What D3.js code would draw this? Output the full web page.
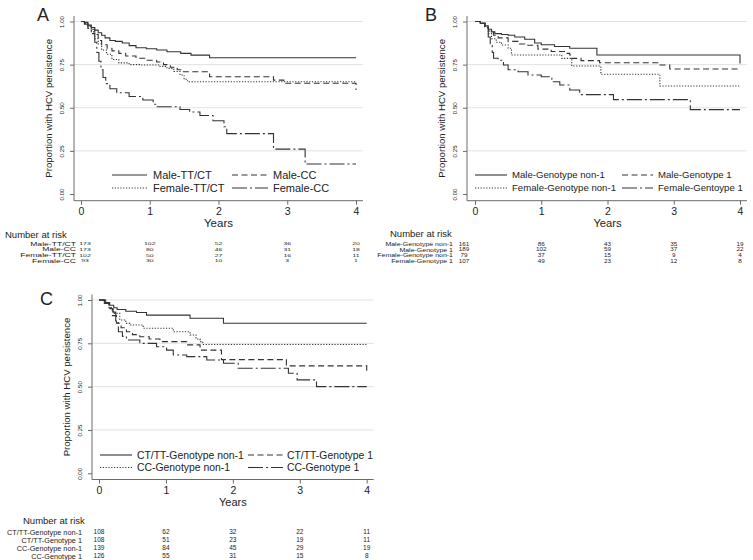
<!DOCTYPE html>
<html><head><meta charset="utf-8">
<script src="https://cdn.jsdelivr.net/npm/d3@7/dist/d3.min.js"></script>
<style>
body{margin:0;background:#fff}
svg{display:block}
text{font-family:"Liberation Sans",Arial,Helvetica,sans-serif;fill:#222}
</style>
</head><body>
<svg id="chart" width="753" height="560"></svg>
<script>
// ---------- DATA ----------
const yearTicks = [0, 1, 2, 3, 4];
const propTicks = [0, 0.25, 0.5, 0.75, 1];
const propTickLabels = ["0.00", "0.25", "0.50", "0.75", "1.00"];
const yTitle = "Proportion with HCV persistence";
const xTitle = "Years";
const riskTitle = "Number at risk";

// Panel A
const A_labels = ["Male-TT/CT", "Male-CC", "Female-TT/CT", "Female-CC"];
const A_maleTTCT = [[0,1],[0.05,0.995],[0.1,0.98],[0.15,0.965],[0.2,0.95],[0.25,0.935],[0.3,0.92],[0.35,0.905],[0.42,0.89],[0.5,0.885],[0.6,0.875],[0.7,0.86],[0.8,0.848],[0.95,0.842],[1.1,0.835],[1.25,0.825],[1.45,0.815],[1.6,0.805],[1.87,0.79],[4,0.79]];
const A_maleCC = [[0,1],[0.05,0.99],[0.1,0.975],[0.15,0.955],[0.2,0.925],[0.25,0.89],[0.3,0.865],[0.38,0.845],[0.45,0.83],[0.55,0.815],[0.65,0.8],[0.8,0.787],[0.95,0.775],[1.1,0.765],[1.2,0.75],[1.3,0.735],[1.4,0.72],[1.45,0.709],[1.87,0.68],[2.8,0.66],[2.95,0.642],[4,0.642],[4,0.603]];
const A_femaleTTCT = [[0,1],[0.05,0.99],[0.1,0.97],[0.15,0.94],[0.2,0.9],[0.25,0.87],[0.3,0.835],[0.37,0.81],[0.45,0.78],[0.55,0.76],[0.7,0.75],[0.85,0.748],[1.15,0.74],[1.25,0.728],[1.35,0.71],[1.44,0.69],[1.5,0.665],[1.55,0.651],[4,0.651]];
const A_femaleCC = [[0,1],[0.05,0.985],[0.1,0.96],[0.15,0.93],[0.2,0.88],[0.23,0.82],[0.26,0.77],[0.29,0.72],[0.32,0.675],[0.36,0.64],[0.42,0.61],[0.52,0.587],[0.7,0.565],[0.9,0.545],[1.05,0.52],[1.1,0.506],[1.44,0.49],[1.58,0.475],[1.73,0.455],[1.92,0.425],[2.08,0.39],[2.12,0.35],[2.8,0.26],[3.26,0.174],[4,0.174]];
const A_risk_maleTTCT = [173, 102, 52, 36, 20];
const A_risk_maleCC = [173, 80, 46, 31, 18];
const A_risk_femaleTTCT = [102, 50, 27, 16, 11];
const A_risk_femaleCC = [93, 30, 10, 3, 1];

// Panel B
const B_legendLabels = ["Male-Genotype non-1", "Male-Genotype 1", "Female-Genotype non-1", "Female-Gentoype 1"];
const B_riskLabels = ["Male-Genotype non-1", "Male-Genotype 1", "Female-Genotype non-1", "Female-Genotype 1"];
const B_maleNon1 = [[0,1],[0.08,0.99],[0.15,0.975],[0.2,0.955],[0.25,0.94],[0.3,0.93],[0.4,0.925],[0.5,0.92],[0.6,0.91],[0.75,0.897],[0.9,0.875],[1.0,0.865],[1.2,0.855],[1.43,0.845],[1.84,0.806],[4,0.806],[4,0.757]];
const B_maleG1 = [[0,1],[0.08,0.99],[0.15,0.97],[0.2,0.945],[0.28,0.92],[0.35,0.905],[0.5,0.885],[0.65,0.87],[0.75,0.862],[0.95,0.84],[1.15,0.826],[1.35,0.815],[1.43,0.806],[1.46,0.786],[1.6,0.773],[1.88,0.761],[2.79,0.748],[2.94,0.725],[4,0.725]];
const B_femaleNon1 = [[0,1],[0.08,0.99],[0.15,0.97],[0.2,0.93],[0.25,0.9],[0.32,0.88],[0.4,0.864],[0.5,0.845],[0.55,0.806],[1.31,0.786],[1.46,0.742],[1.9,0.694],[2.79,0.626],[4,0.626]];
const B_femaleG1 = [[0,1],[0.08,0.99],[0.15,0.965],[0.2,0.91],[0.23,0.86],[0.26,0.82],[0.28,0.787],[0.35,0.775],[0.43,0.748],[0.5,0.72],[0.65,0.709],[0.8,0.69],[1.0,0.68],[1.16,0.651],[1.28,0.632],[1.43,0.603],[1.58,0.576],[2.09,0.547],[3.25,0.489],[4,0.489]];
const B_risk_maleNon1 = [161, 86, 43, 35, 19];
const B_risk_maleG1 = [189, 102, 59, 37, 22];
const B_risk_femaleNon1 = [79, 37, 15, 9, 4];
const B_risk_femaleG1 = [107, 49, 23, 12, 8];

// Panel C
const C_labels = ["CT/TT-Genotype non-1", "CT/TT-Genotype 1", "CC-Genotype non-1", "CC-Genotype 1"];
const C_ctttNon1 = [[0,1],[0.1,0.985],[0.16,0.97],[0.22,0.955],[0.27,0.945],[0.4,0.935],[0.56,0.928],[0.71,0.913],[1.36,0.895],[1.86,0.866],[4,0.866]];
const C_ctttG1 = [[0,1],[0.08,0.98],[0.15,0.95],[0.2,0.91],[0.26,0.866],[0.33,0.84],[0.41,0.817],[0.5,0.8],[0.61,0.788],[0.75,0.775],[0.91,0.76],[1.31,0.741],[1.51,0.711],[1.83,0.656],[2.8,0.62],[4,0.62],[4,0.572]];
const C_ccNon1 = [[0,1],[0.08,0.985],[0.15,0.955],[0.21,0.923],[0.31,0.885],[0.4,0.865],[0.46,0.856],[0.66,0.837],[1.11,0.817],[1.36,0.798],[1.45,0.775],[1.51,0.76],[1.55,0.743],[4,0.743]];
const C_ccG1 = [[0,1],[0.08,0.98],[0.15,0.955],[0.21,0.93],[0.25,0.87],[0.29,0.817],[0.35,0.79],[0.41,0.769],[0.61,0.75],[0.86,0.73],[1.01,0.711],[1.11,0.683],[1.31,0.673],[1.61,0.654],[1.86,0.635],[2.08,0.606],[2.83,0.577],[2.96,0.539],[3.25,0.5],[4,0.5]];
const C_risk_ctttNon1 = [108, 62, 32, 22, 11];
const C_risk_ctttG1 = [108, 51, 23, 19, 11];
const C_risk_ccNon1 = [139, 84, 45, 29, 19];
const C_risk_ccG1 = [126, 55, 31, 15, 8];

// ---------- STYLE ----------
const dashStyles = [null, "6,3.5", "1.2,1.6", "15,3,2,3"];
const lineColor = "#333";
const gridColor = "#e2e2e2";
const axisColor = "#6a6a6a";

const svg = d3.select("#chart");

function drawPanel(cfg) {
  const x = d3.scaleLinear().domain([0, 4]).range([cfg.x0, cfg.x1]);
  const y = d3.scaleLinear().domain([0, 1]).range([cfg.y0, cfg.y1]);
  const left = cfg.x0 - cfg.padL, right = cfg.x1 + cfg.padR;
  const top = cfg.y1 - cfg.padT, bottom = cfg.y0 + cfg.padB;
  const g = svg.append("g");

  // panel letter
  g.append("text").attr("x", cfg.letterX).attr("y", cfg.letterY)
    .attr("font-size", 18).attr("fill", "#111").text(cfg.letter);

  // gridlines
  g.append("g").selectAll("line").data(propTicks.filter(v => v > 0)).join("line")
    .attr("x1", left).attr("x2", right)
    .attr("y1", d => y(d)).attr("y2", d => y(d))
    .attr("stroke", gridColor).attr("stroke-width", 1);

  // y axis
  const ya = g.append("g").attr("transform", `translate(${left},0)`)
    .call(d3.axisLeft(y).tickValues(propTicks).tickSize(4)
      .tickFormat(d => propTickLabels[propTicks.indexOf(d)]));
  ya.select(".domain").remove();
  ya.selectAll(".tick line").attr("stroke", axisColor);
  ya.selectAll(".tick text")
    .attr("x", null).attr("dy", null)
    .attr("transform", "translate(-10.5,0) rotate(-90)")
    .attr("text-anchor", "middle")
    .attr("font-size", 6.2).attr("font-family", "Liberation Sans, Arial, sans-serif").attr("fill", "#333");
  g.append("line").attr("x1", left).attr("x2", left).attr("y1", top).attr("y2", bottom)
    .attr("stroke", axisColor).attr("stroke-width", 1);

  // x axis
  const xa = g.append("g").attr("transform", `translate(0,${bottom})`)
    .call(d3.axisBottom(x).tickValues(yearTicks).tickSize(4).tickFormat(d3.format("d")));
  xa.select(".domain").remove();
  xa.selectAll(".tick line").attr("stroke", axisColor);
  xa.selectAll(".tick text").attr("y", 14.5).attr("dy", null)
    .attr("font-size", 10.5).attr("font-family", "Liberation Sans, Arial, sans-serif").attr("fill", "#222");
  g.append("line").attr("x1", left).attr("x2", right).attr("y1", bottom).attr("y2", bottom)
    .attr("stroke", axisColor).attr("stroke-width", 1);

  // titles
  g.append("text").attr("x", (cfg.x0 + cfg.x1) / 2).attr("y", bottom + cfg.yearsDy)
    .attr("text-anchor", "middle").attr("font-size", cfg.yearsSize).text(xTitle);
  g.append("text").attr("transform", `translate(${left - 22.5},${(top + bottom) / 2}) rotate(-90)`)
    .attr("text-anchor", "middle").attr("font-size", 9.6).text(yTitle);

  // curves
  const line = d3.line().x(d => x(d[0])).y(d => y(d[1])).curve(d3.curveStepAfter);
  cfg.series.forEach((s, i) => {
    g.append("path").attr("d", line(s)).attr("fill", "none")
      .attr("stroke", lineColor).attr("stroke-width", 1.1)
      .attr("stroke-dasharray", dashStyles[i]);
  });

  // legend
  cfg.legendLabels.forEach((lab, i) => {
    const col = i % 2, row = Math.floor(i / 2);
    const ly = cfg.legRows[row];
    const lx = cfg.legCols[col];
    g.append("line").attr("x1", lx[0]).attr("x2", lx[1]).attr("y1", ly).attr("y2", ly)
      .attr("stroke", lineColor).attr("stroke-width", 1.1).attr("stroke-dasharray", dashStyles[i]);
    g.append("text").attr("x", lx[2]).attr("y", ly).attr("dy", "0.35em")
      .attr("font-size", cfg.legSize).text(lab);
  });

  // number at risk table
  g.append("text").attr("x", cfg.riskTitleX).attr("y", cfg.riskTitleY).attr("dy", "0.35em")
    .attr("font-size", 9.5).text(riskTitle);
  cfg.riskLabels.forEach((lab, i) => {
    const ry = cfg.riskRows[i];
    g.append("text").attr("transform", `translate(${cfg.riskLabelX},${ry}) scale(1,${cfg.riskScaleY})`)
      .attr("dy", "0.35em").attr("text-anchor", "end").attr("font-size", cfg.riskLabelSize)
      .text(lab);
    cfg.risk[i].forEach((n, j) => {
      const nx = j === 0 ? x(yearTicks[j]) + cfg.firstColDx : x(yearTicks[j]);
      g.append("text").attr("transform", `translate(${nx},${ry}) scale(1,${cfg.riskScaleY})`)
        .attr("dy", "0.35em").attr("text-anchor", "middle").attr("font-size", cfg.riskNumSize)
        .text(n);
    });
  });
}

drawPanel({
  letter: "A", letterX: 37, letterY: 21,
  x0: 81, x1: 356, y0: 194, y1: 21.5, padL: 7, padR: 7, padT: 5.5, padB: 6.7,
  yearsDy: 26.5, yearsSize: 11.5,
  series: [A_maleTTCT, A_maleCC, A_femaleTTCT, A_femaleCC],
  legendLabels: A_labels, legSize: 11,
  legRows: [175, 188], legCols: [[112, 147, 153], [232, 268, 273]],
  riskTitleX: 5, riskTitleY: 235,
  riskLabels: A_labels, riskLabelX: 76, riskLabelSize: 8.6, riskNumSize: 6.8, riskScaleY: 0.62,
  riskRows: [244, 249.6, 255.2, 260.8], firstColDx: 4,
  risk: [A_risk_maleTTCT, A_risk_maleCC, A_risk_femaleTTCT, A_risk_femaleCC]
});

drawPanel({
  letter: "B", letterX: 425, letterY: 21,
  x0: 475, x1: 740, y0: 194, y1: 21.5, padL: 8, padR: 7, padT: 5.5, padB: 6.7,
  yearsDy: 26.5, yearsSize: 11.2,
  series: [B_maleNon1, B_maleG1, B_femaleNon1, B_femaleG1],
  legendLabels: B_legendLabels, legSize: 9.6,
  legRows: [175, 188], legCols: [[475, 507, 512], [622, 653, 658]],
  riskTitleX: 390, riskTitleY: 234,
  riskLabels: B_riskLabels, riskLabelX: 453, riskLabelSize: 7, riskNumSize: 6.3, riskScaleY: 0.8,
  riskRows: [244, 249.6, 255.2, 260.8], firstColDx: -11,
  risk: [B_risk_maleNon1, B_risk_maleG1, B_risk_femaleNon1, B_risk_femaleG1]
});

drawPanel({
  letter: "C", letterX: 40, letterY: 305,
  x0: 99, x1: 366.7, y0: 473.3, y1: 300, padL: 7, padR: 7, padT: 5.5, padB: 6.2,
  yearsDy: 26, yearsSize: 11,
  series: [C_ctttNon1, C_ctttG1, C_ccNon1, C_ccG1],
  legendLabels: C_labels, legSize: 10.4,
  legRows: [455, 467.5], legCols: [[100, 132, 137], [248, 283, 287]],
  riskTitleX: 23, riskTitleY: 520.7,
  riskLabels: C_labels, riskLabelX: 82, riskLabelSize: 7.3, riskNumSize: 6.5, riskScaleY: 1,
  riskRows: [532, 540, 548, 556], firstColDx: 0,
  risk: [C_risk_ctttNon1, C_risk_ctttG1, C_risk_ccNon1, C_risk_ccG1]
});
</script>
</body></html>
